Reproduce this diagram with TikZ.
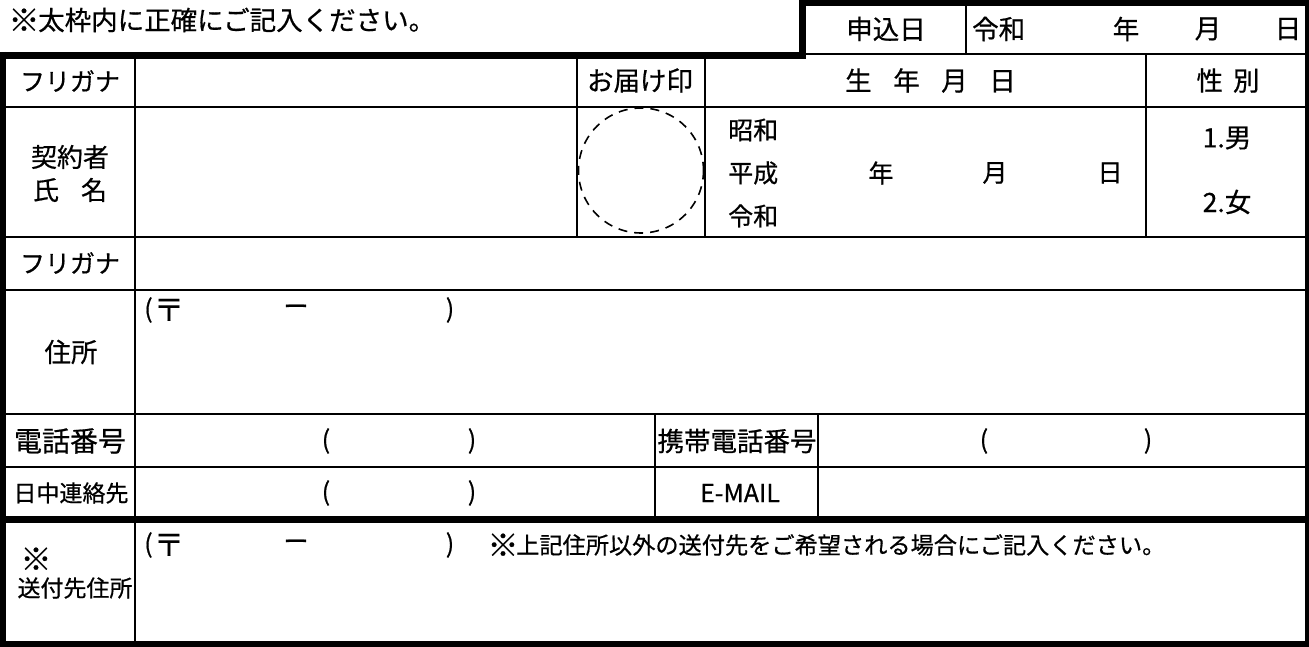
\documentclass[tikz,border=0pt]{standalone}
\usepackage{fontspec}
\setmainfont{Noto Sans CJK JP}[BoldFont={Noto Sans CJK JP}, BoldFeatures={FakeBold=0.6}]
\begin{document}
\begin{tikzpicture}[x=1pt, y=-1pt,
        every node/.style={inner sep=0pt},
        rule/.style={line width=2pt},
        thickrule/.style={line width=7pt},
        txtL/.style={font=\fontsize{26.5}{30}\bfseries},
        txtM/.style={font=\fontsize{25}{30}\bfseries},
        txtS/.style={font=\fontsize{23}{28}\bfseries},
        symb/.style={font=\fontsize{31}{30}\bfseries}]
        \useasboundingbox (0, 0) rectangle (1309, 647);
        % thin rules
        \draw [rule] (806, 54) -- (1309, 54);
        \draw [rule] (966, 0) -- (966, 54);
        \foreach \y in {107.5, 237.5, 290, 413.5, 467}
            \draw [rule] (0, \y) -- (1309, \y);
        \draw [rule] (135, 55) -- (135, 644);
        \foreach \x in {577, 705, 1146}
            \draw [rule] (\x, 55) -- (\x, 237.5);
        \foreach \x in {655, 818}
            \draw [rule] (\x, 413.5) -- (\x, 519.5);
        % thick frame
        \draw [thickrule] (0, 55.5) -- (806, 55.5);
        \draw [thickrule] (802.5, 59) -- (802.5, 2.5) -- (1309, 2.5);
        \draw [thickrule] (2.5, 52) -- (2.5, 647);
        \draw [thickrule] (1308.5, 0) -- (1308.5, 647);
        \draw [thickrule] (0, 519.5) -- (1309, 519.5);
        \draw [thickrule] (0, 644.5) -- (1309, 644.5);
        % stamp
        \draw [line width=1.6pt, dash pattern=on 9pt off 7pt] (641, 170.5) circle [radius=62.5];

        \node [symb] (titlemark) at (24, 20) {※};
        \node [txtL, anchor=west] (title) at (38, 20) {太枠内に正確にご記入ください。};
        \node [txtL] (apply) at (886, 29) {申込日};
        \node [txtL, anchor=west] (applyera) at (972, 29) {令和};
        \node [txtL] (applyY) at (1126, 29) {年};
        \node [txtL] (applyM) at (1208, 29) {月};
        \node [txtL] (applyD) at (1288, 29) {日};

        \node [txtM] (kana1) at (70, 81) {フリガナ};
        \node [txtL] (seal) at (640, 80.5) {お届け印};
        \node [txtL] (birth) at (930.5, 80.5) {生\hspace{21.5pt}年\hspace{21.5pt}月\hspace{21.5pt}日};
        \node [txtL] (sex) at (1228, 80.5) {性\hspace{10pt}別};

        \node [txtL, align=center, font=\fontsize{26}{33}\bfseries] (name) at (70, 173.5) {契約者\\氏\hspace{22pt}名};
        \node [txtM, anchor=west] (eraS) at (728, 130) {昭和};
        \node [txtM, anchor=west] (eraH) at (728, 173) {平成};
        \node [txtM, anchor=west] (eraR) at (728, 216) {令和};
        \node [txtM] (birthY) at (881, 173) {年};
        \node [txtM] (birthM) at (995, 173) {月};
        \node [txtM] (birthD) at (1110, 173) {日};
        \node [txtL] (male) at (1227, 138) {1.男};
        \node [txtL] (female) at (1227, 202) {2.女};

        \node [txtM] (kana2) at (70, 263) {フリガナ};

        \node [txtL] (addr) at (71, 352) {住所};
        \node [txtM] (addrL) at (148.5, 310) {(};
        \node [symb] (addrZ) at (169, 310) {〒};
        \node [txtM] (addrH) at (296, 310) {ー};
        \node [txtM] (addrR) at (450, 310) {)};

        \node [font=\fontsize{28}{32}\bfseries] (tel) at (70, 441) {電話番号};
        \node [txtM] (telL) at (326, 441) {(};
        \node [txtM] (telR) at (472, 441) {)};
        \node [txtL] (mobile) at (737, 441) {携帯電話番号};
        \node [txtM] (mobileL) at (984, 441) {(};
        \node [txtM] (mobileR) at (1148, 441) {)};

        \node [txtS] (day) at (71, 493) {日中連絡先};
        \node [txtM] (dayL) at (326, 493) {(};
        \node [txtM] (dayR) at (472, 493) {)};
        \node [txtM] (mail) at (740, 493) {E-MAIL};

        \node [symb] (sendmark) at (36, 559) {※};
        \node [txtS] (send) at (75, 588) {送付先住所};
        \node [txtM] (sendL) at (148.5, 545) {(};
        \node [symb] (sendZ) at (169, 545) {〒};
        \node [txtM] (sendH) at (296, 545) {ー};
        \node [txtM] (sendR) at (450, 545) {)};
        \node [symb] (notemark) at (503, 545) {※};
        \node [anchor=west, font=\fontsize{23.2}{28}\bfseries] (note) at (516, 545) {上記住所以外の送付先をご希望される場合にご記入ください。};
    \end{tikzpicture}
\end{document}
